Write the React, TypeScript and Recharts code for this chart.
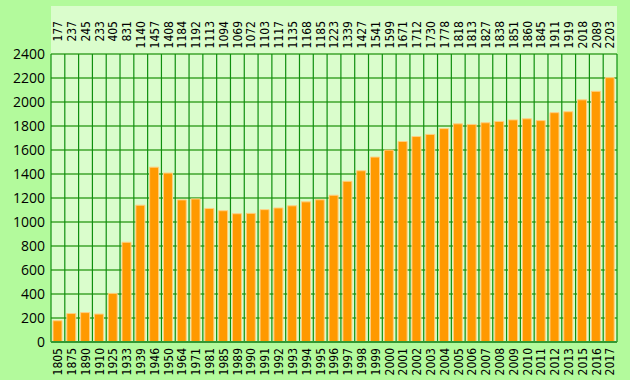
import React from 'react';
import { BarChart, Bar, XAxis, YAxis, CartesianGrid } from 'recharts';

const years = [
  '1805', '1875', '1890', '1910', '1925', '1933', '1939', '1946', '1950', '1964',
  '1971', '1981', '1985', '1989', '1990', '1991', '1992', '1993', '1994', '1995',
  '1996', '1997', '1998', '1999', '2000', '2001', '2002', '2003', '2004', '2005',
  '2006', '2007', '2008', '2009', '2010', '2011', '2012', '2013', '2015', '2016', '2017',
];

const population = [
  177, 237, 245, 233, 405, 831, 1140, 1457, 1408, 1184,
  1192, 1113, 1094, 1069, 1072, 1103, 1117, 1135, 1168, 1185,
  1223, 1339, 1427, 1541, 1599, 1671, 1712, 1730, 1778, 1818,
  1813, 1827, 1838, 1851, 1860, 1845, 1911, 1919, 2018, 2089, 2203,
];

const yTicks = [0, 200, 400, 600, 800, 1000, 1200, 1400, 1600, 1800, 2000, 2200, 2400];

const data = years.map((year, i) => ({ year, value: population[i] }));

const rotatedFont = '"DejaVu Sans Condensed", "DejaVu Sans", sans-serif';

// value labels hang from the top of the panel, reading upwards
const TopTick = (props: any) => {
  const { x, y, payload } = props;
  const ty = y - 27;
  return (
    <text x={x} y={ty} dy="0.36em" transform={`rotate(-90, ${x}, ${ty})`} textAnchor="end"
      fontFamily={rotatedFont} fontSize={12} fill="#000">
      {payload.value}
    </text>
  );
};

const BottomTick = (props: any) => {
  const { x, y, payload } = props;
  return (
    <text x={x} y={y} dy="0.36em" transform={`rotate(-90, ${x}, ${y})`} textAnchor="end"
      fontFamily={rotatedFont} fontSize={12} fill="#000">
      {payload.value}
    </text>
  );
};

export default function App() {
  const n = data.length;
  return (
    <div style={{ position: 'absolute', left: 0, top: 0, width: 630, height: 380, background: '#b3fa9c' }}>
      <div style={{ position: 'absolute', left: 51, top: 6, width: 566, height: 337, background: '#dafdcc' }} />
      <div style={{ position: 'absolute', left: 0, top: 0 }}>
        <BarChart width={630} height={380} data={data} margin={{ top: 0, right: 13, left: 0, bottom: 0 }} barCategoryGap={0}>
          <CartesianGrid
            stroke="#66bb55"
            strokeWidth={2}
            horizontal={true}
            vertical={false}
          />
          <CartesianGrid
            stroke="#0f8f0f"
            strokeWidth={1.2}
            horizontal={false}
            verticalCoordinatesGenerator={({ offset }: any) =>
              Array.from({ length: n + 1 }, (_, i) => offset.left + (i * offset.width) / n)
            }
          />
          <XAxis
            xAxisId="top"
            orientation="top"
            dataKey="value"
            height={54}
            interval={0}
            axisLine={false}
            tickLine={false}
            tickSize={6}
            tickMargin={0}
            tick={<TopTick />}
          />
          <XAxis
            dataKey="year"
            height={38}
            interval={0}
            axisLine={{ stroke: '#339933', strokeWidth: 2 }}
            tickLine={false}
            tickSize={6}
            tickMargin={0}
            tick={<BottomTick />}
          />
          <YAxis
            width={51}
            domain={[0, 2400]}
            ticks={yTicks}
            interval={0}
            axisLine={false}
            tickLine={false}
            tickSize={6}
            tickMargin={0}
            tick={{ fill: '#000', fontSize: 14, fontFamily: 'Open Sans, sans-serif' }}
          />
          <Bar dataKey="value" fill="#ff9900" stroke="#ffcf80" strokeWidth={1} barSize={9} isAnimationActive={false} />
        </BarChart>
      </div>
    </div>
  );
}
